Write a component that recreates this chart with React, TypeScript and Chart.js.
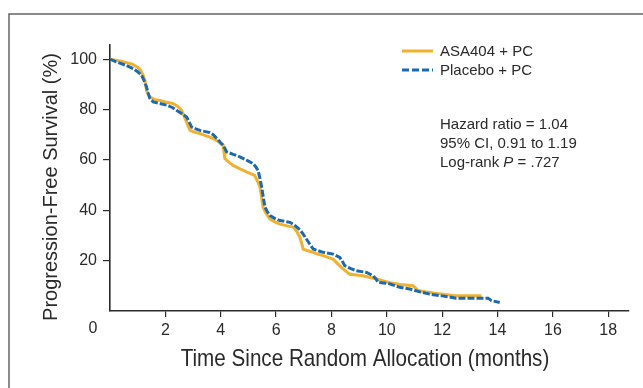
import React, { useEffect, useRef } from "react";
import { Chart, registerables } from "chart.js";

Chart.register(...registerables);

// ASA404 + PC (orange, solid)
const asaTimes = [0, 0.2, 0.4, 0.6, 0.8, 1.0, 1.1, 1.2, 1.26, 1.32, 1.38, 1.44, 1.6, 1.8, 2.0, 2.27, 2.45, 2.59, 2.67, 2.74, 2.82, 2.89, 3.05, 3.25, 3.45, 3.61, 3.73, 3.9, 4.0, 4.09, 4.12, 4.15, 4.3, 4.45, 4.7, 4.93, 5.1, 5.23, 5.33, 5.42, 5.48, 5.53, 5.65, 5.78, 5.95, 6.14, 6.4, 6.62, 6.75, 6.86, 6.92, 6.98, 7.15, 7.34, 7.5, 7.7, 7.9, 8.06, 8.2, 8.36, 8.5, 8.66, 8.9, 9.14, 9.4, 9.63, 9.85, 10.1, 10.5, 10.95, 11.05, 11.13, 11.45, 11.79, 12.1, 12.45, 13.0, 13.42];
const asaSurv = [100, 99.6, 99.2, 98.6, 98.0, 96.8, 95.6, 93.5, 91.6, 87.6, 86.0, 84.9, 84.0, 83.6, 83.0, 82.4, 81.2, 79.7, 77.5, 75.7, 73.5, 71.7, 71.0, 70.4, 69.6, 69.0, 68.4, 67.4, 66.4, 65.8, 63.0, 60.5, 59.0, 57.8, 56.4, 55.2, 54.4, 53.8, 51.5, 49.2, 45.0, 41.2, 38.5, 36.5, 35.4, 34.5, 33.8, 33.3, 31.5, 29.3, 27.0, 24.6, 23.9, 23.3, 22.6, 22.0, 21.2, 20.6, 19.0, 17.3, 16.0, 14.6, 14.3, 14.0, 13.3, 12.7, 12.0, 11.2, 10.5, 10.0, 9.0, 8.1, 7.5, 7.0, 6.6, 6.1, 6.1, 6.1];

// Placebo + PC (blue, dashed)
const plaTimes = [0, 0.2, 0.36, 0.6, 0.84, 1.0, 1.14, 1.23, 1.32, 1.38, 1.44, 1.56, 1.8, 2.05, 2.25, 2.4, 2.6, 2.77, 2.86, 2.95, 3.1, 3.25, 3.45, 3.61, 3.73, 3.9, 4.0, 4.09, 4.15, 4.21, 4.45, 4.69, 4.95, 5.17, 5.27, 5.35, 5.42, 5.48, 5.54, 5.6, 5.68, 5.78, 5.95, 6.14, 6.5, 6.7, 6.86, 6.98, 7.1, 7.22, 7.34, 7.5, 7.7, 8.06, 8.3, 8.4, 8.48, 8.7, 8.9, 9.27, 9.5, 9.6, 9.69, 10.1, 10.47, 10.83, 11.2, 11.55, 12.0, 12.5, 13.66, 13.78, 14.08];
const plaSurv = [100, 99.0, 98.4, 97.4, 96.2, 95.0, 93.6, 91.5, 88.9, 86.5, 84.4, 83.0, 82.4, 81.7, 80.8, 79.7, 78.3, 77.0, 75.0, 73.0, 72.3, 71.7, 71.2, 70.8, 70.0, 68.0, 66.8, 65.8, 64.5, 63.2, 62.2, 61.2, 59.8, 58.5, 57.2, 55.8, 52.5, 49.2, 45.0, 41.2, 39.5, 37.9, 36.8, 35.9, 35.2, 33.8, 32.2, 30.5, 28.5, 26.5, 24.6, 24.0, 23.3, 22.6, 21.3, 19.6, 18.0, 16.8, 16.0, 15.3, 14.0, 12.8, 11.4, 10.8, 9.4, 8.7, 7.6, 6.7, 6.0, 5.1, 5.1, 4.1, 3.4];

const xTicks = [2, 4, 6, 8, 10, 12, 14, 16, 18];
const yTicks = [20, 40, 60, 80, 100];
const seriesNames = ["ASA404 + PC", "Placebo + PC"];
const statLines = ["Hazard ratio = 1.04", "95% CI, 0.91 to 1.19"];
const xTitle = "Time Since Random Allocation (months)";
const yTitle = "Progression-Free Survival (%)";

const ORANGE = "#F0B12E";
const BLUE = "#1E68AE";
const INK = "#2a2a2a";
const FONT = "'Liberation Sans', Arial, sans-serif";

const decorPlugin = {
  id: "decor",
  afterDraw(chart: any) {
    const ctx = chart.ctx;
    ctx.save();
    // frame
    ctx.strokeStyle = "#666";
    ctx.lineWidth = 1.5;
    ctx.beginPath();
    ctx.moveTo(9, 388);
    ctx.lineTo(9, 14);
    ctx.lineTo(643, 14);
    ctx.stroke();

    // origin label
    ctx.fillStyle = INK;
    ctx.font = `16px ${FONT}`;
    ctx.textAlign = "center";
    ctx.textBaseline = "middle";
    ctx.fillText("0", 93, 329);

    // x title (condensed)
    ctx.save();
    ctx.translate(365, 359);
    ctx.scale(0.86, 1);
    ctx.font = `24px ${FONT}`;
    ctx.fillText(xTitle, 0, 0);
    ctx.restore();

    // y title
    ctx.save();
    ctx.translate(51, 187);
    ctx.rotate(-Math.PI / 2);
    ctx.font = `20px ${FONT}`;
    ctx.fillText(yTitle, 0, 0);
    ctx.restore();

    // legend
    ctx.lineWidth = 3;
    ctx.strokeStyle = ORANGE;
    ctx.setLineDash([]);
    ctx.beginPath();
    ctx.moveTo(402, 51);
    ctx.lineTo(433, 51);
    ctx.stroke();
    ctx.strokeStyle = BLUE;
    ctx.setLineDash([7, 3]);
    ctx.beginPath();
    ctx.moveTo(402, 70);
    ctx.lineTo(433, 70);
    ctx.stroke();
    ctx.setLineDash([]);

    ctx.font = `15px ${FONT}`;
    ctx.textAlign = "left";
    ctx.fillStyle = INK;
    ctx.fillText(seriesNames[0], 440, 52);
    ctx.fillText(seriesNames[1], 440, 71);

    // stats
    ctx.fillText(statLines[0], 440, 125);
    ctx.fillText(statLines[1], 440, 144);
    let x = 440;
    const p1 = "Log-rank ";
    ctx.fillText(p1, x, 163);
    x += ctx.measureText(p1).width;
    ctx.font = `italic 15px ${FONT}`;
    ctx.fillText("P", x, 163);
    x += ctx.measureText("P").width;
    ctx.font = `15px ${FONT}`;
    ctx.fillText(" = .727", x, 163);
    ctx.restore();
  },
};

export default function App() {
  const ref = useRef<HTMLCanvasElement>(null);
  useEffect(() => {
    const asa = asaTimes.map((t, i) => ({ x: t, y: asaSurv[i] }));
    const pla = plaTimes.map((t, i) => ({ x: t, y: plaSurv[i] }));
    const chart = new Chart(ref.current as HTMLCanvasElement, {
      type: "line",
      data: {
        datasets: [
          {
            label: seriesNames[1],
            data: pla,
            borderColor: BLUE,
            borderWidth: 3,
            borderDash: [7, 2],
            pointRadius: 0,
            tension: 0,
            fill: false,
          },
          {
            label: seriesNames[0],
            data: asa,
            borderColor: ORANGE,
            borderWidth: 3,
            pointRadius: 0,
            tension: 0,
            fill: false,
          },
        ],
      },
      options: {
        responsive: false,
        animation: false,
        layout: { padding: { left: 0, top: 45, right: 14, bottom: 0 } },
        plugins: { legend: { display: false }, tooltip: { enabled: false } },
        scales: {
          x: {
            type: "linear",
            min: 0,
            max: 18.75,
            afterFit: (s: any) => {
              s.height = 77;
            },
            afterBuildTicks: (s: any) => {
              s.ticks = xTicks.map((v) => ({ value: v }));
            },
            grid: {
              display: true,
              drawOnChartArea: false,
              drawTicks: true,
              tickLength: 6,
              color: INK,
              lineWidth: 1.2,
            },
            border: { display: true, color: INK, width: 1.6 },
            ticks: {
              color: INK,
              font: { size: 16, family: FONT },
              padding: 4,
              maxRotation: 0,
              autoSkip: false,
            },
          },
          y: {
            type: "linear",
            min: 0,
            max: 105.6,
            afterFit: (s: any) => {
              s.width = 110;
            },
            afterBuildTicks: (s: any) => {
              s.ticks = yTicks.map((v) => ({ value: v }));
            },
            grid: {
              display: true,
              drawOnChartArea: false,
              drawTicks: true,
              tickLength: 7,
              color: INK,
              lineWidth: 1.2,
            },
            border: { display: true, color: INK, width: 1.6 },
            ticks: {
              color: INK,
              font: { size: 16, family: FONT },
              padding: 6,
              autoSkip: false,
            },
          },
        },
      },
      plugins: [decorPlugin],
    } as any);
    return () => chart.destroy();
  }, []);
  return (
    <div style={{ position: "fixed", left: 0, top: 0, width: 643, height: 388, background: "#fff" }}>
      <canvas ref={ref} width={643} height={388} style={{ display: "block" }} />
    </div>
  );
}
